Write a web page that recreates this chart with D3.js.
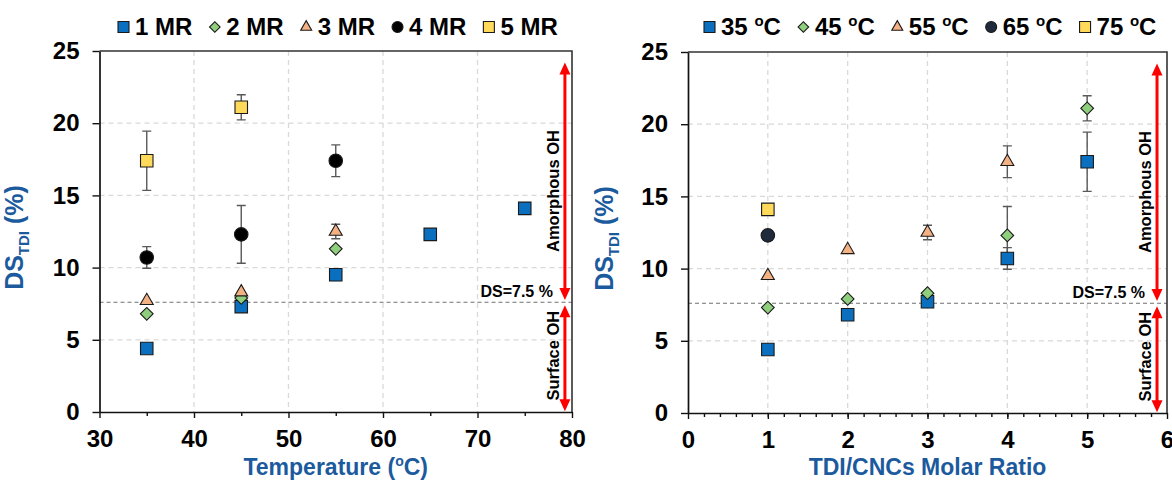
<!DOCTYPE html>
<html>
<head>
<meta charset="utf-8">
<script src="https://cdn.jsdelivr.net/npm/d3@7"></script>
<style>
  body { margin: 0; background: #fff; }
  svg { display: block; }
</style>
</head>
<body>
<svg id="chart" width="1172" height="481"></svg>
<script>
(function () {
  'use strict';

  // ---- data -------------------------------------------------------------
  var temperatures = [35, 45, 55, 65, 75];          // reaction temperature (ºC)
  var molarRatios = [1, 2, 3, 4, 5];                // TDI/CNCs molar ratio

  // DS_TDI (%) per molar ratio, listed by temperature (null = not measured)
  var ds1MR = [4.4, 7.3, 9.5, 12.3, 14.1];
  var ds2MR = [6.8, 7.9, 11.3, null, null];
  var ds3MR = [7.7, 8.3, 12.5, null, null];
  var ds4MR = [10.7, 12.3, 17.4, null, null];
  var ds5MR = [17.4, 21.1, null, null, null];

  // standard deviation (0 = no error bar drawn)
  var err1MR = [0, 0, 0, 0, 0];
  var err2MR = [0, 0, 0, 0, 0];
  var err3MR = [0, 0, 0.5, 0, 0];
  var err4MR = [0.75, 2.0, 1.1, 0, 0];
  var err5MR = [2.05, 0.87, 0, 0, 0];

  var dsThreshold = 7.6;

  var ratioNames = ['1 MR', '2 MR', '3 MR', '4 MR', '5 MR'];
  var tempNames = ['35', '45', '55', '65', '75'];

  var yTicks = [0, 5, 10, 15, 20, 25];
  var tempTicks = [30, 40, 50, 60, 70, 80];
  var tempMinorTicks = [35, 45, 55, 65, 75];
  var ratioTicks = [0, 1, 2, 3, 4, 5, 6];

  // ---- styles -----------------------------------------------------------
  var FONT = '"Liberation Sans", Arial, Helvetica, sans-serif';
  var TITLE_BLUE = '#1c5a9e';
  var ERR_GREY = '#595959';

  var seriesStyles = [
    { shape: 'square', fill: '#0b6fbf', size: 12.5, legend: 11 },
    { shape: 'diamond', fill: '#8fce7c', size: 9, legend: 7.5 },
    { shape: 'triangle', fill: '#f4b183', size: 13, legend: 11 },
    { shape: 'circle', fill: '#000000', size: 13.5, legend: 11 },
    { shape: 'square', fill: '#ffd95a', size: 12.5, legend: 11 }
  ];

  var dsByRatio = [ds1MR, ds2MR, ds3MR, ds4MR, ds5MR];
  var errByRatio = [err1MR, err2MR, err3MR, err4MR, err5MR];

  var svg = d3.select('#chart');

  function symbolFor(shape, side) {
    if (shape === 'square' || shape === 'diamond') {
      return d3.symbol(d3.symbolSquare, side * side)();
    }
    if (shape === 'triangle') {
      return d3.symbol(d3.symbolTriangle, Math.sqrt(3) / 4 * side * side)();
    }
    return d3.symbol(d3.symbolCircle, Math.PI * side * side / 4)();
  }

  function addMarker(g, style, cx, cy, side, fill) {
    g.append('path')
      .attr('d', symbolFor(style.shape, side))
      .attr('transform', 'translate(' + cx + ',' + cy + ')' + (style.shape === 'diamond' ? ' rotate(45)' : ''))
      .attr('fill', fill || style.fill)
      .attr('stroke', '#1a1a1a')
      .attr('stroke-width', 1.1);
  }

  function drawArrow(g, x, yA, yB) {
    var head = 12, half = 5.5;
    g.append('line')
      .attr('x1', x).attr('x2', x)
      .attr('y1', yA + head - 1).attr('y2', yB - head + 1)
      .attr('stroke', '#ff0000').attr('stroke-width', 3);
    g.append('path')
      .attr('d', 'M' + x + ',' + yA + 'L' + (x - half) + ',' + (yA + head) + 'L' + (x + half) + ',' + (yA + head) + 'Z' +
        'M' + x + ',' + yB + 'L' + (x - half) + ',' + (yB - head) + 'L' + (x + half) + ',' + (yB - head) + 'Z')
      .attr('fill', '#ff0000');
  }

  function drawPanel(p) {
    var x = d3.scaleLinear().domain(p.xDomain).range([p.left, p.right]);
    var y = d3.scaleLinear().domain([0, 25]).range([p.bottom, p.top]);
    var g = svg.append('g');

    // dashed grid
    g.selectAll('.vgrid')
      .data(p.xTicks.slice(1, -1))
      .enter().append('line')
      .attr('x1', function (d) { return x(d); })
      .attr('x2', function (d) { return x(d); })
      .attr('y1', p.top).attr('y2', p.bottom)
      .attr('stroke', '#d9d9d9').attr('stroke-width', 1.3).attr('stroke-dasharray', '5,4');
    g.selectAll('.hgrid')
      .data(yTicks.slice(1, -1))
      .enter().append('line')
      .attr('x1', p.left).attr('x2', p.right)
      .attr('y1', function (d) { return y(d); })
      .attr('y2', function (d) { return y(d); })
      .attr('stroke', '#d9d9d9').attr('stroke-width', 1.3).attr('stroke-dasharray', '5,4');

    // DS threshold
    g.append('line')
      .attr('x1', p.left).attr('x2', p.right)
      .attr('y1', y(dsThreshold)).attr('y2', y(dsThreshold))
      .attr('stroke', '#707070').attr('stroke-width', 1.2).attr('stroke-dasharray', '4,3');

    // frame
    g.append('path')
      .attr('d', 'M' + p.left + ',' + p.top + 'H' + p.right + 'V' + p.bottom)
      .attr('fill', 'none').attr('stroke', '#333').attr('stroke-width', 1.6);

    // axes
    var xa = g.append('g')
      .attr('transform', 'translate(0,' + p.bottom + ')')
      .call(d3.axisBottom(x).tickValues(p.xTicks).tickFormat(d3.format('d'))
        .tickSize(6).tickPadding(12).tickSizeOuter(0));
    var xm = g.append('g')
      .attr('transform', 'translate(0,' + p.bottom + ')')
      .call(d3.axisBottom(x).tickValues(p.xMinor).tickSize(4).tickFormat('').tickSizeOuter(0));
    xm.select('.domain').remove();
    var ya = g.append('g')
      .attr('transform', 'translate(' + p.left + ',0)')
      .call(d3.axisLeft(y).tickValues(yTicks).tickSize(7).tickPadding(13).tickSizeOuter(0));

    [xa, xm, ya].forEach(function (a) {
      a.attr('font-family', FONT).attr('font-size', 24).attr('font-weight', 'bold');
      a.selectAll('.domain').attr('stroke', '#111').attr('stroke-width', 1.7);
      a.selectAll('.tick line').attr('stroke', '#111').attr('stroke-width', 1.4);
      a.selectAll('.tick text').attr('fill', '#000');
    });

    // annotation arrows
    var ax = x(p.arrowAt);
    drawArrow(g, ax, y(24.2), y(7.75));
    drawArrow(g, ax, y(7.4), y(0.05));

    g.append('text')
      .attr('x', ax - 12).attr('y', y(dsThreshold) - 5)
      .attr('text-anchor', 'end')
      .attr('font-family', FONT).attr('font-weight', 'bold').attr('font-size', 16)
      .text('DS=7.5 %');
    [['Amorphous OH', 15.3], ['Surface OH', 3.9]].forEach(function (t) {
      g.append('text')
        .attr('transform', 'translate(' + (ax - 12) + ',' + y(t[1]) + ') rotate(-90)')
        .attr('text-anchor', 'middle')
        .attr('dominant-baseline', 'central')
        .attr('font-family', FONT).attr('font-weight', 'bold').attr('font-size', 16.5)
        .text(t[0]);
    });

    // error bars then markers
    var eg = g.append('g');
    var mg = g.append('g');
    p.series.forEach(function (s) {
      s.points.forEach(function (pt) {
        if (pt.e > 0) {
          var cx = x(pt.x), y1 = y(pt.v + pt.e), y2 = y(pt.v - pt.e);
          eg.append('path')
            .attr('d', 'M' + cx + ',' + y1 + 'V' + y2 +
              'M' + (cx - 4.5) + ',' + y1 + 'H' + (cx + 4.5) +
              'M' + (cx - 4.5) + ',' + y2 + 'H' + (cx + 4.5))
            .attr('fill', 'none').attr('stroke', ERR_GREY).attr('stroke-width', 1.4);
        }
      });
    });
    p.series.forEach(function (s) {
      s.points.forEach(function (pt) {
        addMarker(mg, s.style, x(pt.x), y(pt.v), s.style.size, s.fill);
      });
    });

    // axis titles
    var yt = g.append('text')
      .attr('transform', 'translate(' + p.yTitleX + ',' + ((p.top + p.bottom) / 2 + 6) + ') rotate(-90)')
      .attr('text-anchor', 'middle')
      .attr('font-family', FONT).attr('font-weight', 'bold').attr('font-size', 25)
      .attr('fill', TITLE_BLUE);
    yt.append('tspan').text('DS');
    yt.append('tspan').attr('dy', 6).attr('font-size', 15).text('TDI');
    yt.append('tspan').attr('dy', -6).text(' (%)');

    var xt = g.append('text')
      .attr('x', (p.left + p.right) / 2).attr('y', 475)
      .attr('text-anchor', 'middle')
      .attr('font-family', FONT).attr('font-weight', 'bold').attr('font-size', 23)
      .attr('fill', TITLE_BLUE);
    p.xTitle(xt);

    // legend
    var lx = p.legendX;
    p.series.forEach(function (s) {
      var st = s.style;
      var box = Math.max(st.legend, 11);
      addMarker(g, st, lx + box / 2, 27, st.legend, s.fill);
      var t = g.append('text')
        .attr('x', lx + box + 6).attr('y', 35)
        .attr('font-family', FONT).attr('font-weight', 'bold').attr('font-size', 24)
        .attr('fill', '#000');
      s.label(t);
      lx += box + 6 + t.node().getComputedTextLength() + p.legendGap;
    });
  }

  // left panel: one series per molar ratio, x = temperature
  var leftSeries = molarRatios.map(function (r, i) {
    return {
      style: seriesStyles[i],
      label: function (t) { t.text(ratioNames[i]); },
      points: temperatures.map(function (tc, k) {
        return { x: tc, v: dsByRatio[i][k], e: errByRatio[i][k] };
      }).filter(function (d) { return d.v !== null; })
    };
  });

  // right panel: one series per temperature, x = molar ratio
  var rightSeries = temperatures.map(function (tc, k) {
    return {
      style: seriesStyles[k],
      fill: k === 3 ? '#1f2b3d' : null,
      label: function (t) {
        t.append('tspan').text(tempNames[k] + ' ');
        t.append('tspan').attr('dy', -9).attr('font-size', 15).text('o');
        t.append('tspan').attr('dy', 9).text('C');
      },
      points: molarRatios.map(function (r, i) {
        return { x: r, v: dsByRatio[i][k], e: errByRatio[i][k] };
      }).filter(function (d) { return d.v !== null; })
    };
  });

  drawPanel({
    left: 99.5, right: 572, top: 51, bottom: 412,
    xDomain: [30, 80], xTicks: tempTicks, xMinor: tempMinorTicks,
    arrowAt: 79.25, yTitleX: 23, legendX: 118, legendGap: 17,
    series: leftSeries,
    xTitle: function (t) {
      t.append('tspan').text('Temperature (');
      t.append('tspan').attr('dy', -9).attr('font-size', 14).text('o');
      t.append('tspan').attr('dy', 9).text('C)');
    }
  });

  drawPanel({
    left: 688, right: 1167, top: 52, bottom: 413,
    xDomain: [0, 6], xTicks: ratioTicks, xMinor: d3.range(0.2, 6, 0.2),
    arrowAt: 5.875, yTitleX: 613, legendX: 704, legendGap: 17,
    series: rightSeries,
    xTitle: function (t) { t.text('TDI/CNCs Molar Ratio'); }
  });
}());
</script>
</body>
</html>
